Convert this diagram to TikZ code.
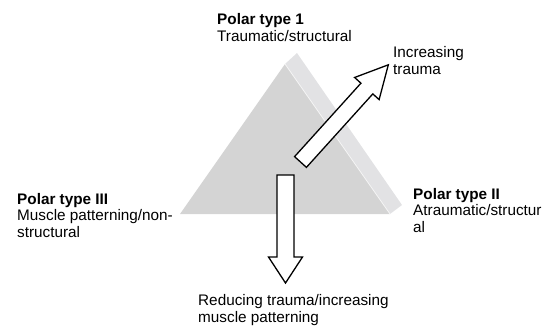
\documentclass[tikz,border=0pt]{standalone}
\usepackage{fontspec}
\setmainfont{Liberation Sans}
\definecolor{frontgray}{RGB}{212,212,212}
\definecolor{sidegray}{RGB}{226,226,228}
\begin{document}
\begin{tikzpicture}[x=1pt,y=-1pt,
  lbl/.style={anchor=base west,inner sep=0pt,align=left,font=\fontsize{15.3}{16.7}\selectfont},
  blockarrow/.style={draw=black,fill=white,line width=1.3pt,line join=miter}]
\useasboundingbox (0,0) rectangle (559,329);
% prism
\coordinate (L) at (180,214);
\coordinate (A) at (285,64);
\coordinate (R) at (390,214);
\coordinate (Ab) at (297,53);
\coordinate (Rb) at (402,205);
\fill[sidegray] (A) -- (Ab) -- (Rb) -- (R) -- cycle;
\fill[frontgray] (L) -- (A) -- (R) -- cycle;
\draw[white,line width=0.8pt,opacity=0.7] (A) -- (R);
% down arrow
\draw[blockarrow] (277,175) -- (294,175) -- (294,257) -- (302.5,257) -- (285.5,283) -- (268.5,257) -- (277,257) -- cycle;
% up arrow
\begin{scope}[shift={(300.5,162)},rotate=47.9]
\draw[blockarrow] (0,-8) -- (99,-8) -- (99,-16.5) -- (131,0) -- (99,16.5) -- (99,8) -- (0,8) -- cycle;
\end{scope}
% labels (base anchor = baseline of the last line)
\node[lbl] (p1) at (217,41.7) {\textbf{Polar type 1}\\Traumatic/structural};
\node[lbl] (inc) at (393,74.7) {Increasing\\trauma};
\node[lbl] (p3) at (17,237.4) {\textbf{Polar type III}\\Muscle patterning/non-\\structural};
\node[lbl] (p2) at (413,232.4) {\textbf{Polar type II}\\Atraumatic/structur\\al};
\node[lbl] (red) at (198,322.4) {Reducing trauma/increasing\\muscle patterning};
\end{tikzpicture}
\end{document}
